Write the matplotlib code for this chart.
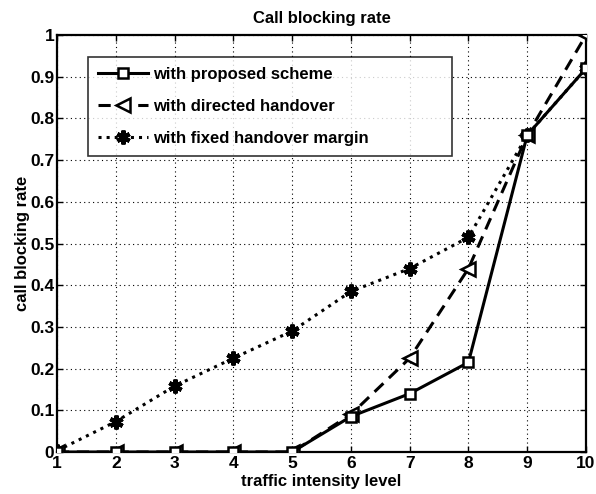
import numpy as np
import matplotlib
matplotlib.use('Agg')
import matplotlib.pyplot as plt

traffic_level = [1, 2, 3, 4, 5, 6, 7, 8, 9, 10]
proposed = [0, 0, 0, 0, 0, 0.085, 0.14, 0.215, 0.76, 0.92]
directed = [0, 0, 0, 0, 0, 0.09, 0.225, 0.44, 0.76, 1.0]
fixed_margin = [0.003, 0.073, 0.158, 0.225, 0.29, 0.385, 0.44, 0.515, 0.76, 0.92]
y_ticks = [0, 0.1, 0.2, 0.3, 0.4, 0.5, 0.6, 0.7, 0.8, 0.9, 1]
y_ticklabels = ['0', '0.1', '0.2', '0.3', '0.4', '0.5', '0.6', '0.7', '0.8', '0.9', '1']

plt.rcParams['font.family'] = ['Liberation Sans', 'DejaVu Sans']
plt.rcParams['font.weight'] = 'bold'

fig = plt.figure(figsize=(5.96, 4.94), dpi=100)
ax = fig.add_axes([0.0956, 0.085, 0.8876, 0.844])

ax.plot(traffic_level, fixed_margin, color='black', linestyle=':', linewidth=2.2,
        marker=(6, 2, 0), markersize=10, markeredgewidth=3,
        label='with fixed handover margin', zorder=3)
ax.plot(traffic_level, directed, color='black', linestyle=(0, (4, 2.5)), linewidth=2.2,
        marker='<', markersize=10, markerfacecolor='white', markeredgewidth=1.8,
        label='with directed handover', zorder=4)
ax.plot(traffic_level, proposed, color='black', linestyle='-', linewidth=2.2,
        marker='s', markersize=7, markerfacecolor='white', markeredgewidth=1.8,
        label='with proposed scheme', zorder=5)

ax.set_xlim(1, 10)
ax.set_ylim(0, 1)
ax.set_xticks(traffic_level)
ax.set_yticks(y_ticks)
ax.set_yticklabels(y_ticklabels)
ax.tick_params(direction='in', top=True, right=True, length=4, width=1,
               labelsize=12.5, pad=2)
ax.tick_params(axis='x', pad=3)
for lab in ax.get_xticklabels() + ax.get_yticklabels():
    lab.set_fontweight('bold')
for s in ax.spines.values():
    s.set_linewidth(1.6)
ax.grid(True, color='black', linestyle=(0, (1, 3)), linewidth=0.8)

ax.set_title('Call blocking rate', fontsize=12, fontweight='bold', pad=9)
ax.set_xlabel('traffic intensity level', fontsize=12, fontweight='bold', labelpad=2)
ax.set_ylabel('call blocking rate', fontsize=12, fontweight='bold', labelpad=0)

handles, labels = ax.get_legend_handles_labels()
order = [2, 1, 0]
leg = ax.legend([handles[i] for i in order], [labels[i] for i in order],
                loc='upper left', bbox_to_anchor=(0.0586, 0.71, 0.688, 0.237),
                mode='expand', prop={'weight': 'bold', 'size': 12},
                frameon=True, fancybox=False, edgecolor='black',
                handlelength=3.0, borderpad=0.6, labelspacing=1.0, handletextpad=0.3,
                borderaxespad=0)
leg.get_frame().set_linewidth(1.2)

fig.savefig('out.png', dpi=100)
